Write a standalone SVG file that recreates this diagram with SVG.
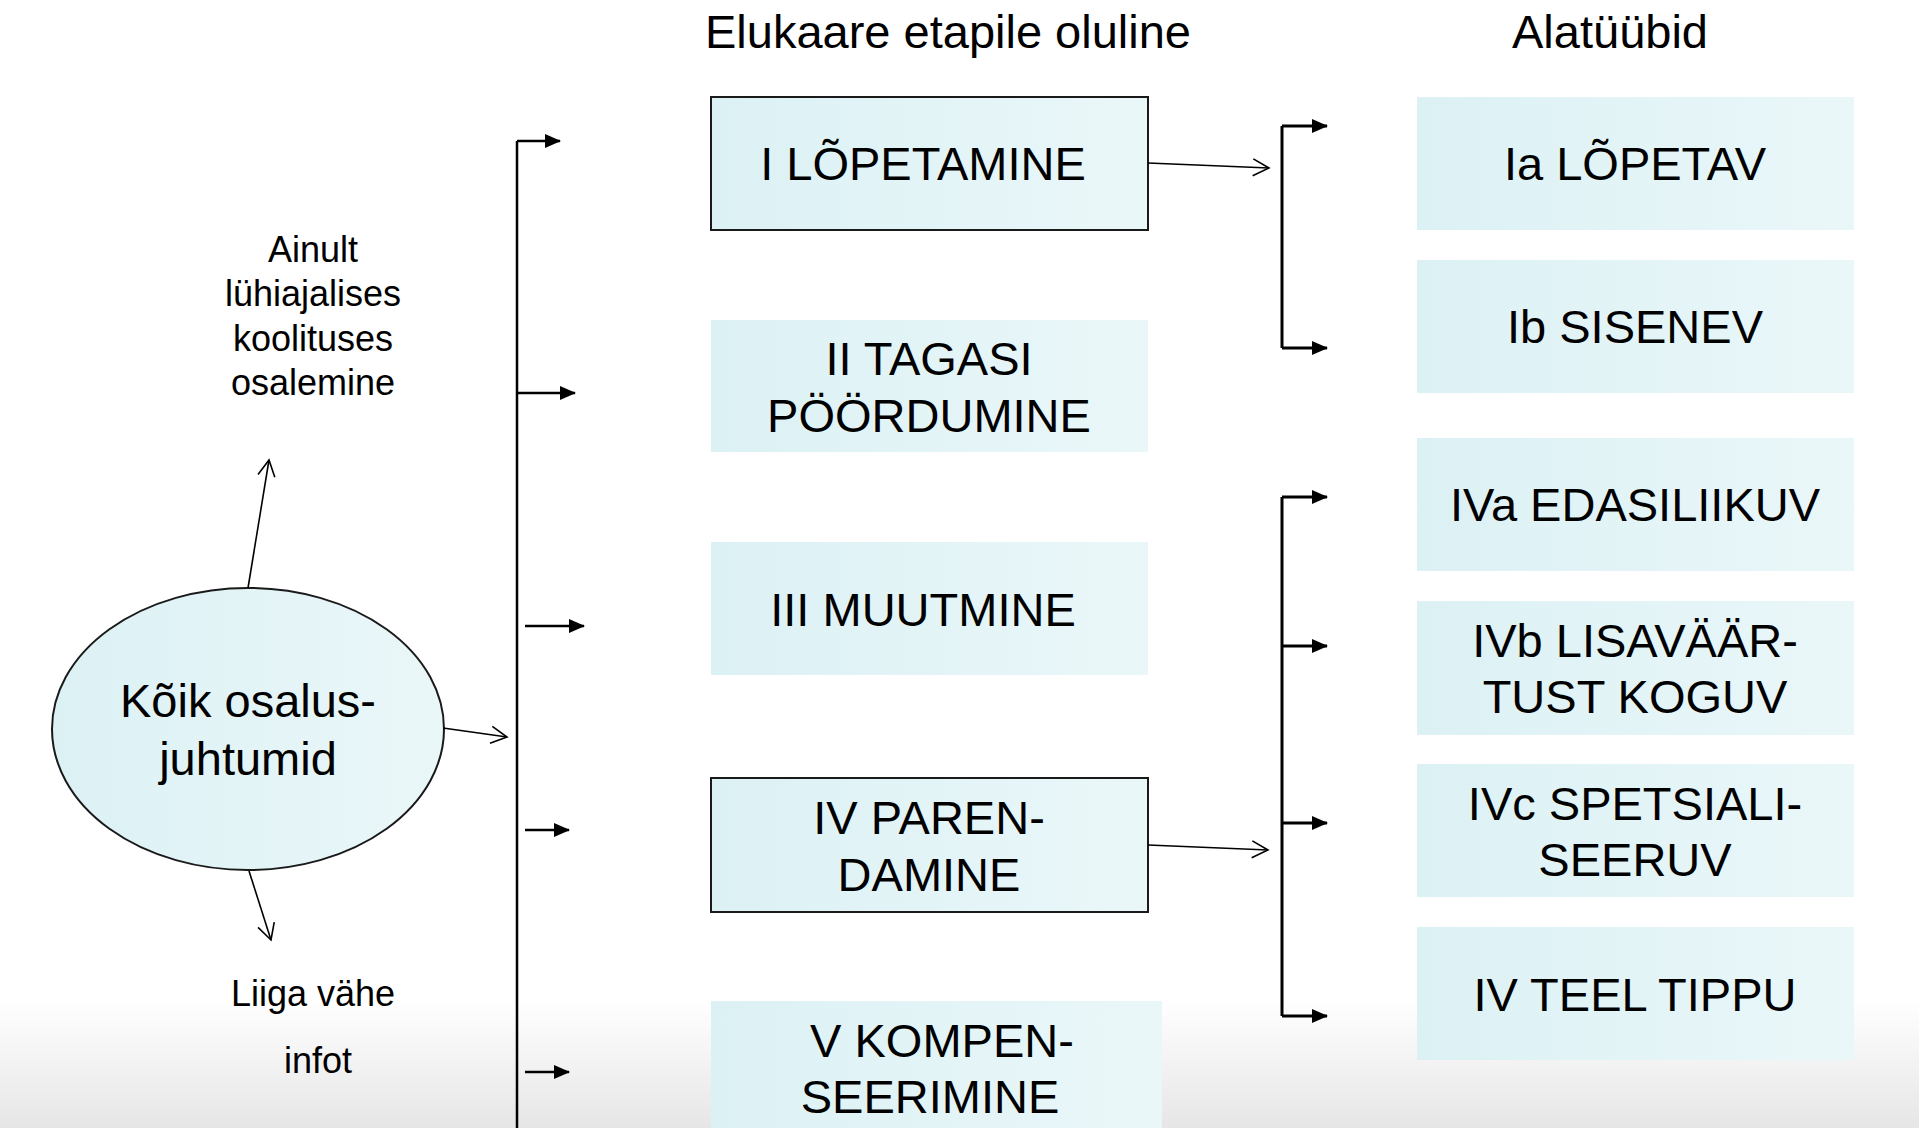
<svg xmlns="http://www.w3.org/2000/svg" width="1919" height="1128" viewBox="0 0 1919 1128">
<defs>
<linearGradient id="boxFill" x1="0" y1="0" x2="1" y2="0">
<stop offset="0" stop-color="#dcf1f4"/>
<stop offset="1" stop-color="#eaf7f9"/>
</linearGradient>
<linearGradient id="bgFade" x1="0" y1="0" x2="0" y2="1">
<stop offset="0" stop-color="#ffffff"/>
<stop offset="1" stop-color="#e6e6e6"/>
</linearGradient>
<marker id="openHead" viewBox="0 0 20 20" refX="18" refY="10" markerWidth="20" markerHeight="20" markerUnits="userSpaceOnUse" orient="auto">
<path d="M2,1.5 L18,10 L2,18.5" fill="none" stroke="#000" stroke-width="1.6"/>
</marker>
<marker id="solidHead" viewBox="0 0 16 14" refX="15" refY="7" markerWidth="16" markerHeight="14" markerUnits="userSpaceOnUse" orient="auto">
<path d="M0,0 L16,7 L0,14 Z" fill="#000"/>
</marker>
</defs>
<style>
text{font-family:"Liberation Sans",Arial,sans-serif;fill:#000;text-anchor:middle}
.big{font-size:47px}
.small{font-size:36px}
.box{fill:url(#boxFill)}
.boxb{fill:url(#boxFill);stroke:#1a1a1a;stroke-width:2}
.thin{fill:none;stroke:#000;stroke-width:1.6;marker-end:url(#openHead)}
.br{fill:none;stroke:#000;stroke-width:2.5}
.brA{fill:none;stroke:#000;stroke-width:2.5;marker-end:url(#solidHead)}
.br3{fill:none;stroke:#000;stroke-width:3}
.br3A{fill:none;stroke:#000;stroke-width:3;marker-end:url(#solidHead)}
</style>
<rect x="0" y="0" width="1919" height="1128" fill="#ffffff"/>
<rect x="0" y="1000" width="1919" height="128" fill="url(#bgFade)"/>

<g id="headers">
<text class="big" x="948" y="48">Elukaare etapile oluline</text>
<text class="big" x="1610" y="48">Alatüübid</text>
</g>

<g id="node-koik">
<ellipse cx="248" cy="729" rx="196" ry="141" fill="url(#boxFill)" stroke="#1a1a1a" stroke-width="2"/>
<text class="big" x="248" y="717">Kõik osalus-</text>
<text class="big" x="248" y="775">juhtumid</text>
</g>

<g id="label-ainult">
<text class="small" x="313" y="262">Ainult</text>
<text class="small" x="313" y="306">lühiajalises</text>
<text class="small" x="313" y="351">koolituses</text>
<text class="small" x="313" y="395">osalemine</text>
</g>

<g id="label-liiga">
<text class="small" x="313" y="1006">Liiga vähe</text>
<text class="small" x="318" y="1073">infot</text>
</g>

<g id="node-I">
<rect class="boxb" x="711" y="97" width="437" height="133"/>
<text class="big" x="923" y="180">I LÕPETAMINE</text>
</g>
<g id="node-II">
<rect class="box" x="711" y="320" width="437" height="132"/>
<text class="big" x="929" y="375">II TAGASI</text>
<text class="big" x="929" y="432">PÖÖRDUMINE</text>
</g>
<g id="node-III">
<rect class="box" x="711" y="542" width="437" height="133"/>
<text class="big" x="923" y="626">III MUUTMINE</text>
</g>
<g id="node-IV">
<rect class="boxb" x="711" y="778" width="437" height="134"/>
<text class="big" x="929" y="834">IV PAREN-</text>
<text class="big" x="929" y="891">DAMINE</text>
</g>
<g id="node-V">
<rect class="box" x="711" y="1001" width="451" height="133"/>
<text class="big" x="942" y="1057">V KOMPEN-</text>
<text class="big" x="930" y="1113">SEERIMINE</text>
</g>

<g id="node-Ia">
<rect class="box" x="1417" y="97" width="437" height="133"/>
<text class="big" x="1635" y="180">Ia LÕPETAV</text>
</g>
<g id="node-Ib">
<rect class="box" x="1417" y="260" width="437" height="133"/>
<text class="big" x="1635" y="343">Ib SISENEV</text>
</g>
<g id="node-IVa">
<rect class="box" x="1417" y="438" width="437" height="133"/>
<text class="big" x="1635" y="521">IVa EDASILIIKUV</text>
</g>
<g id="node-IVb">
<rect class="box" x="1417" y="601" width="437" height="134"/>
<text class="big" x="1635" y="657">IVb LISAVÄÄR-</text>
<text class="big" x="1635" y="713">TUST KOGUV</text>
</g>
<g id="node-IVc">
<rect class="box" x="1417" y="764" width="437" height="133"/>
<text class="big" x="1635" y="820">IVc SPETSIALI-</text>
<text class="big" x="1635" y="876">SEERUV</text>
</g>
<g id="node-IVtipp">
<rect class="box" x="1417" y="927" width="437" height="133"/>
<text class="big" x="1635" y="1011">IV TEEL TIPPU</text>
</g>

<g id="connectors">
<line class="thin" x1="248" y1="588" x2="269" y2="460"/>
<line class="thin" x1="249" y1="871" x2="271" y2="940"/>
<line class="thin" x1="443" y1="728" x2="507" y2="737"/>
<path class="br" d="M517,1128 V141"/>
<path class="brA" d="M517,141 H560"/>
<path class="brA" d="M517,393 H575"/>
<path class="brA" d="M525,626 H584"/>
<path class="brA" d="M525,830 H569"/>
<path class="brA" d="M525,1072 H569"/>
<line class="thin" x1="1148" y1="163" x2="1269" y2="168"/>
<line class="thin" x1="1148" y1="845" x2="1268" y2="850"/>
<path class="br3" d="M1282,126 V348"/>
<path class="br3A" d="M1282,126 H1327"/>
<path class="br3A" d="M1282,348 H1327"/>
<path class="br3" d="M1282,497 V1016"/>
<path class="br3A" d="M1282,497 H1327"/>
<path class="br3A" d="M1282,646 H1327"/>
<path class="br3A" d="M1282,823 H1327"/>
<path class="br3A" d="M1282,1016 H1327"/>
</g>
</svg>
